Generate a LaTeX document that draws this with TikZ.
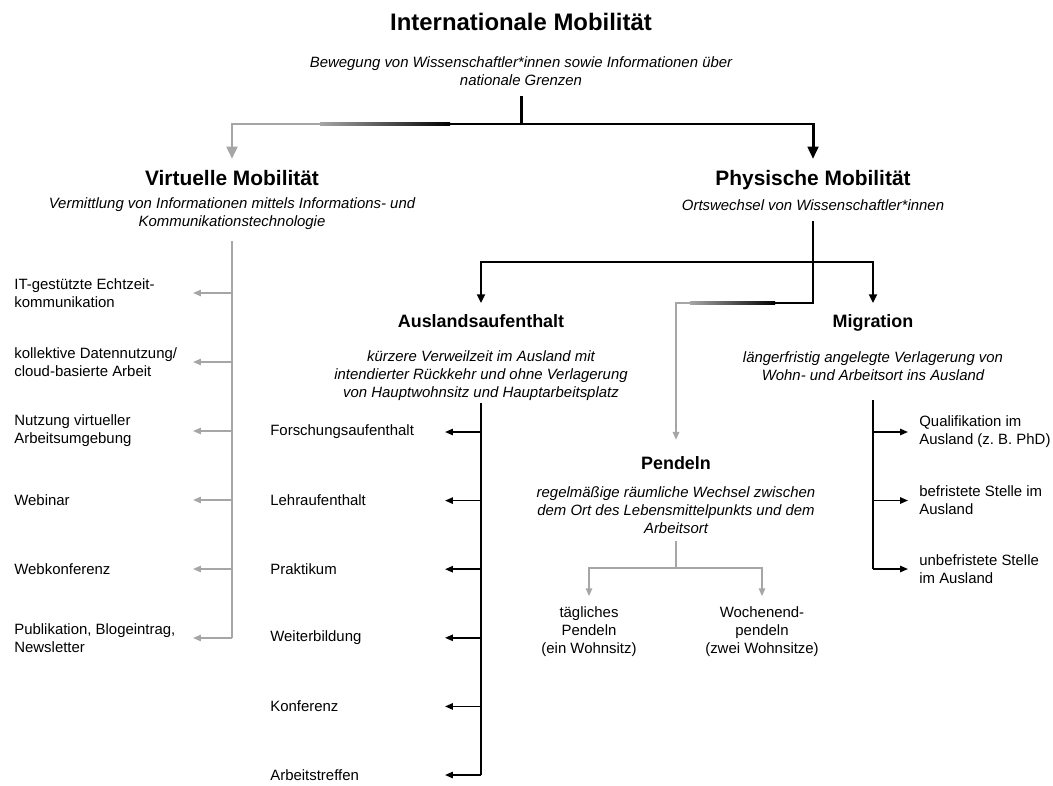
\documentclass[tikz,border=0pt]{standalone}
\usepackage{fontspec}
\setmainfont{Liberation Sans}
\usetikzlibrary{arrows.meta}
\definecolor{lightgr}{HTML}{A6A6A6}
\frenchspacing
\tikzset{
  ttl/.style={font=\fontsize{13.6}{16}\selectfont\bfseries, inner sep=0pt},
  hd/.style={font=\fontsize{11.9}{14}\selectfont\bfseries, inner sep=0pt, anchor=base},
  sub/.style={font=\fontsize{10.2}{12}\selectfont\bfseries, inner sep=0pt, anchor=base},
  dsc/.style={font=\fontsize{8.5}{10.2}\selectfont\itshape, align=center, inner sep=0pt},
  itm/.style={font=\fontsize{8.5}{10.2}\selectfont, align=left, anchor=west, inner sep=0pt},
  ctr/.style={font=\fontsize{8.5}{10.2}\selectfont, align=center, inner sep=0pt},
  blk/.style={draw=black, line width=0.9pt},
  gry/.style={draw=lightgr, line width=0.9pt},
  bigtip/.style={-{Triangle[length=7pt,width=6pt]}},
  midtip/.style={-{Triangle[length=5pt,width=4.5pt]}},
  smalltip/.style={-{Triangle[length=4.5pt,width=3.6pt]}},
}
\begin{document}
\begin{tikzpicture}[x=0.02cm, y=-0.02cm]
    \useasboundingbox (0,0) rectangle (1053,785);
    % top level
    \node[ttl] (im) at (521,22) {Internationale Mobilität};
    \node[dsc] (imdesc) at (521,71) {Bewegung von Wissenschaftler*innen sowie Informationen über\\nationale Grenzen};
    % second level
    \node[hd] (vm) at (232,185) {Virtuelle Mobilität};
    \node[dsc] (vmdesc) at (232,214) {Vermittlung von Informationen mittels Informations- und\\Kommunikationstechnologie};
    \node[hd] (pm) at (813,185) {Physische Mobilität};
    \node[dsc] (pmdesc) at (813,205) {Ortswechsel von Wissenschaftler*innen};
    % third level
    \node[sub] (aus) at (481,327) {Auslandsaufenthalt};
    \node[dsc] (ausdesc) at (481,376) {kürzere Verweilzeit im Ausland mit\\intendierter Rückkehr und ohne Verlagerung\\von Hauptwohnsitz und Hauptarbeitsplatz};
    \node[sub] (mig) at (873,327) {Migration};
    \node[dsc] (migdesc) at (873,366) {längerfristig angelegte Verlagerung von\\Wohn- und Arbeitsort ins Ausland};
    \node[sub] (pend) at (676,469) {Pendeln};
    \node[dsc] (penddesc) at (676,510) {regelmäßige räumliche Wechsel zwischen\\dem Ort des Lebensmittelpunkts und dem\\Arbeitsort};

    % top connector, fading to grey on the left
    \coordinate (jt) at (521,124);
    \coordinate (fadeL) at (320,124);
    \coordinate (fadeR) at (450,124);
    \draw[blk, line width=1.7pt] ([yshift=-6pt]imdesc.south) -- (jt);
    \draw[blk, line width=1.7pt, bigtip] (fadeR) -- (jt) -| ([yshift=6pt]pm.north);
    \shade[left color=lightgr, right color=black] ([yshift=-0.85pt]fadeL) rectangle ([yshift=0.85pt]fadeR);
    \draw[gry, line width=1.7pt, bigtip] (fadeL) -| ([yshift=6pt]vm.north);

    % virtual mobility
    \coordinate (vx) at (232,0);
    \coordinate (vtip) at (193,0);
    \draw[gry, line width=1pt] ([yshift=-6pt]vmdesc.south) -- (232,638);
    \foreach \t [count=\i] in {{IT-gestützte Echtzeit-\\kommunikation}, {kollektive Datennutzung/\\cloud-basierte Arbeit}, {Nutzung virtueller\\Arbeitsumgebung}, {Webinar}, {Webkonferenz}, {Publikation, Blogeintrag,\\Newsletter}} {
        \node[itm] (v\i) at (14,{293+(\i-1)*69}) {\t};
        \draw[gry, smalltip] (v\i -| vx) -- (v\i -| vtip);
    }

    % physical mobility
    \coordinate (jp) at (813,262);
    \coordinate (jq) at (813,303);
    \coordinate (fade2L) at (690,303);
    \coordinate (fade2R) at (775,303);
    \draw[blk, line width=1.2pt] ([yshift=-6pt]pmdesc.south) -- (jq) -- (fade2R);
    \draw[blk, line width=1.2pt, midtip] (jp) -| ([yshift=6pt]aus.north);
    \draw[blk, line width=1.2pt, midtip] (jp) -| ([yshift=6pt]mig.north);
    \shade[left color=lightgr, right color=black] ([yshift=-0.6pt]fade2L) rectangle ([yshift=0.6pt]fade2R);
    \draw[gry, line width=1.2pt, smalltip] (fade2L) -| ([yshift=9pt]pend.north);

    % stays abroad
    \coordinate (ax) at (481,0);
    \coordinate (atip) at (445,0);
    \draw[blk, line width=1.2pt] ([yshift=-1pt]ausdesc.south) -- (481,775);
    \foreach \t [count=\i] in {Forschungsaufenthalt, Lehraufenthalt, Praktikum, Weiterbildung, Konferenz, Arbeitstreffen} {
        \node[itm] (a\i) at (270,{432+(\i-1)*68.6}) {\t};
        \draw[blk, smalltip] (a\i -| ax) -- (a\i -| atip);
    }

    % migration
    \coordinate (mx) at (873,0);
    \coordinate (mtip) at (908,0);
    \draw[blk, line width=1.2pt] ([yshift=-11pt]migdesc.south) -- (873,569);
    \foreach \t [count=\i] in {{Qualifikation im\\Ausland (z. B. PhD)}, {befristete Stelle im\\Ausland}, {unbefristete Stelle\\im Ausland}} {
        \node[itm] (m\i) at (919,{432+(\i-1)*68.5}) {\t};
        \draw[blk, smalltip] (m\i -| mx) -- (m\i -| mtip);
    }

    % commuting
    \node[ctr] (p1) at (589,632) {tägliches\\Pendeln\\(ein Wohnsitz)};
    \node[ctr] (p2) at (762,632) {Wochenend-\\pendeln\\(zwei Wohnsitze)};
    \coordinate (jc) at (676,568);
    \draw[gry, line width=1pt] ([yshift=-4pt]penddesc.south) -- (jc);
    \draw[gry, line width=1pt, smalltip] (jc) -| ([yshift=6pt]p1.north);
    \draw[gry, line width=1pt, smalltip] (jc) -| ([yshift=6pt]p2.north);
\end{tikzpicture}
\end{document}
